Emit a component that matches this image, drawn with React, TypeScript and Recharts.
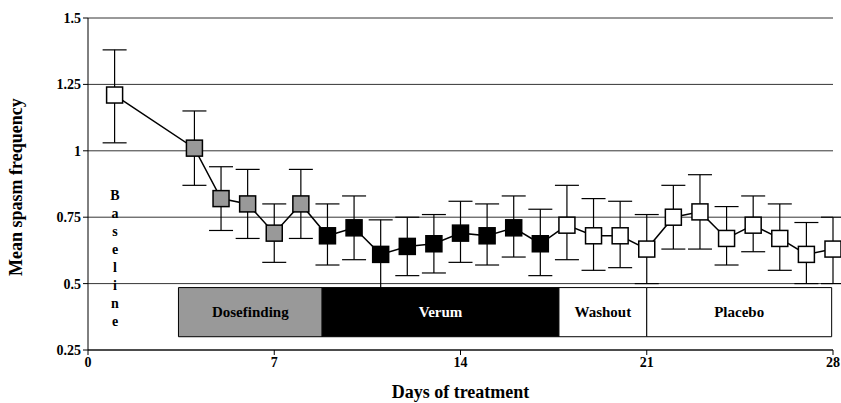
import React from 'react'
import { ComposedChart, Line, XAxis, YAxis, CartesianGrid, ErrorBar, ReferenceArea } from 'recharts'

const days = [1, 4, 5, 6, 7, 8, 9, 10, 11, 12, 13, 14, 15, 16, 17, 18, 19, 20, 21, 22, 23, 24, 25, 26, 27, 28]
const means = [1.21, 1.01, 0.82, 0.8, 0.69, 0.8, 0.68, 0.71, 0.61, 0.64, 0.65, 0.69, 0.68, 0.71, 0.65, 0.72, 0.68, 0.68, 0.63, 0.75, 0.77, 0.67, 0.72, 0.67, 0.61, 0.63]
const lows = [1.03, 0.87, 0.7, 0.67, 0.58, 0.67, 0.57, 0.59, 0.48, 0.53, 0.54, 0.58, 0.57, 0.6, 0.53, 0.59, 0.55, 0.56, 0.5, 0.63, 0.63, 0.57, 0.62, 0.55, 0.5, 0.5]
const highs = [1.38, 1.15, 0.94, 0.93, 0.8, 0.93, 0.8, 0.83, 0.74, 0.75, 0.76, 0.81, 0.8, 0.83, 0.78, 0.87, 0.82, 0.81, 0.76, 0.87, 0.91, 0.79, 0.83, 0.8, 0.73, 0.75]
const phases = ['base', 'dose', 'dose', 'dose', 'dose', 'dose', 'verum', 'verum', 'verum', 'verum', 'verum', 'verum', 'verum', 'verum', 'verum', 'placebo', 'placebo', 'placebo', 'placebo', 'placebo', 'placebo', 'placebo', 'placebo', 'placebo', 'placebo', 'placebo']
const xTicks = [0, 7, 14, 21, 28]
const yTicks = [0.25, 0.5, 0.75, 1, 1.25, 1.5]
const boxes = [
  { name: 'Dosefinding', x1: 3.4, x2: 8.8, fill: '#999999', text: '#000' },
  { name: 'Verum', x1: 8.8, x2: 17.7, fill: '#000000', text: '#fff' },
  { name: 'Washout', x1: 17.7, x2: 21, fill: '#ffffff', text: '#000' },
  { name: 'Placebo', x1: 21, x2: 27.95, fill: '#ffffff', text: '#000' },
]

const fills: Record<string, string> = { base: '#fff', dose: '#999', verum: '#000', placebo: '#fff' }

const data = days.map((d, i) => ({
  day: d,
  mean: means[i],
  err: [means[i] - lows[i], highs[i] - means[i]],
  phase: phases[i],
}))

const font = 'Liberation Serif, Times New Roman, serif'

function Square(props: any) {
  const { cx, cy, payload } = props
  if (cx == null) return null
  return <rect x={cx - 8} y={cy - 8} width={16} height={16} fill={fills[payload.phase]} stroke="#000" strokeWidth={1.5} />
}

function BoxLabel(props: any) {
  const { viewBox, value, color } = props
  return (
    <text x={viewBox.x + viewBox.width / 2} y={viewBox.y + viewBox.height / 2 + 5} textAnchor="middle"
      fill={color} fontFamily={font} fontWeight="bold" fontSize={15}>{value}</text>
  )
}

export default function App() {
  const baseline = 'Baseline'.split('')
  return (
    <div style={{ position: 'fixed', left: 0, top: 0, background: '#fff' }}>
      <ComposedChart width={841} height={403} data={data} margin={{ top: 18, right: 8, bottom: 14, left: 0 }}>
        <CartesianGrid vertical={false} stroke="#000" strokeWidth={0.8} />
        <XAxis dataKey="day" type="number" domain={[0, 28]} ticks={xTicks} stroke="#000" tickSize={5}
          tick={{ fill: '#000', fontFamily: font, fontWeight: 'bold', fontSize: 14 }} height={39}
          label={{ value: 'Days of treatment', position: 'insideBottom', offset: -9, fill: '#000', fontFamily: font, fontWeight: 'bold', fontSize: 18 }} />
        <YAxis type="number" domain={[0.25, 1.5]} ticks={yTicks} stroke="#000" width={88} tickSize={5}
          tick={{ fill: '#000', fontFamily: font, fontWeight: 'bold', fontSize: 14 }}
          label={{ value: 'Mean spasm frequency', angle: -90, position: 'insideLeft', offset: 16, dy: 92, fill: '#000', fontFamily: font, fontWeight: 'bold', fontSize: 18 }} />
        {boxes.map(b => (
          <ReferenceArea key={b.name} x1={b.x1} x2={b.x2} y1={0.3} y2={0.485} fill={b.fill} fillOpacity={1} stroke="#000" strokeWidth={1}
            label={<BoxLabel value={b.name} color={b.text} />} />
        ))}
        <Line dataKey="mean" stroke="#000" strokeWidth={1.5} dot={<Square />} isAnimationActive={false}>
          <ErrorBar dataKey="err" width={12} stroke="#000" strokeWidth={1.2} />
        </Line>
        <g>
          {baseline.map((c, i) => (
            <text key={i} x={115} y={200 + i * 18} textAnchor="middle" fontFamily={font} fontWeight="bold" fontSize={14}>{c}</text>
          ))}
        </g>
      </ComposedChart>
    </div>
  )
}
